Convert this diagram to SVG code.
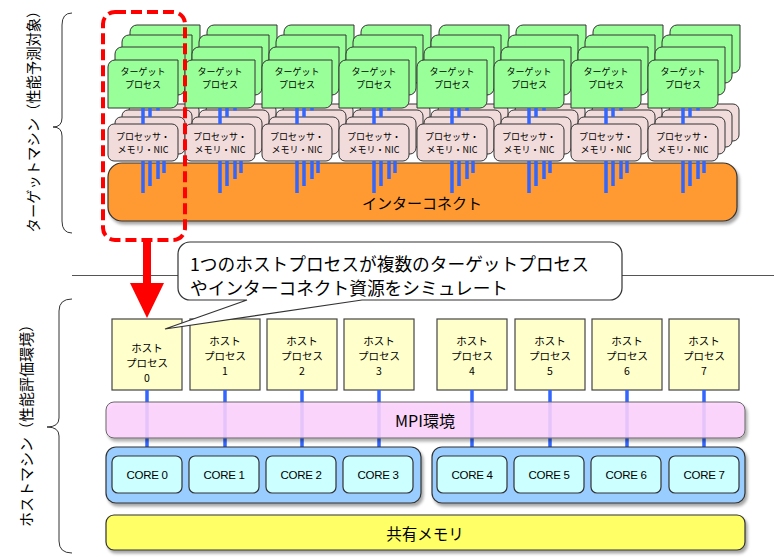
<svg xmlns="http://www.w3.org/2000/svg" xmlns:xlink="http://www.w3.org/1999/xlink" width="774" height="557" viewBox="0 0 774 557">
<style>
text{font-family:"Noto Sans CJK JP","Noto Sans",sans-serif;fill:#000;text-anchor:middle;dominant-baseline:central}
.gr{fill:#99FF99;stroke:#333;stroke-width:1}
.pk{fill:#F2DCDB;stroke:#333;stroke-width:1}
.st{font-size:9px}
.hb{fill:#FFFFCC;stroke:#444;stroke-width:1.2}
.ht{font-size:10.5px}
.core{fill:#CCFFFF;stroke:#333;stroke-width:1.2}
.ct{font-family:"Liberation Sans",Arial,sans-serif;font-size:11.5px;letter-spacing:-0.3px}
.bl{stroke:#3366FF;stroke-width:3.5;fill:none}
.co{font-size:17.7px;text-anchor:start}
</style>
<defs>
<path id="g" d="M7,0H70V41A7,7 0 0 1 63,48H0V7A7,7 0 0 1 7,0Z"/>
<rect id="p" width="70" height="37" rx="6"/>
<path id="tl" d="M35,108V124M42,108V117M50,108V110.5M35,161V193M42,161V186M50,161V179M56,161V173"/>
<filter id="sh" x="-5%" y="-10%" width="112%" height="135%">
<feDropShadow dx="2" dy="3" stdDeviation="1.5" flood-color="#000" flood-opacity="0.35"/>
</filter>
</defs>

<rect width="774" height="557" fill="#fff"/>

<g id="labels">
<path d="M72,13Q62,13 62,25L62,118Q62,127 53,127Q62,127 62,136L62,221Q62,233 72,233" fill="none" stroke="#333" stroke-width="1"/>
<text transform="translate(32,118) rotate(-90)" style="font-size:14.3px">ターゲットマシン（性能予測対象）</text>
<path d="M72,299Q59,299 59,311L59,418Q59,427 47,427Q59,427 59,436L59,541Q59,553 72,553" fill="none" stroke="#333" stroke-width="1"/>
<text transform="translate(25,422) rotate(-90)" style="font-size:15px">ホストマシン（性能評価環境）</text>
</g>

<line x1="72" y1="275.5" x2="774" y2="275.5" stroke="#555" stroke-width="1"/>

<g id="interconnect">
<rect x="108" y="163" width="629" height="58" rx="14" fill="#FF9933" stroke="#333" stroke-width="1.2" filter="url(#sh)"/>
<text x="422" y="202" style="font-size:15px">インターコネクト</text>
</g>

<g id="col0" transform="translate(108,0)">
<use href="#p" class="pk" x="21" y="104"/><use href="#p" class="pk" x="14" y="110"/><use href="#p" class="pk" x="7" y="117"/><use href="#p" class="pk" x="0" y="124"/>
<use href="#g" class="gr" x="22" y="25"/><use href="#g" class="gr" x="14" y="35"/><use href="#g" class="gr" x="7" y="47"/><use href="#g" class="gr" x="0" y="60"/>
<text class="st" x="35" y="71.5">ターゲット</text><text class="st" x="35" y="84">プロセス</text>
<text class="st" x="35" y="136.5">プロセッサ・</text><text class="st" x="35" y="149">メモリ・NIC</text>
</g>
<g id="col1" transform="translate(185,0)">
<use href="#p" class="pk" x="21" y="104"/><use href="#p" class="pk" x="14" y="110"/><use href="#p" class="pk" x="7" y="117"/><use href="#p" class="pk" x="0" y="124"/>
<use href="#g" class="gr" x="22" y="25"/><use href="#g" class="gr" x="14" y="35"/><use href="#g" class="gr" x="7" y="47"/><use href="#g" class="gr" x="0" y="60"/>
<text class="st" x="35" y="71.5">ターゲット</text><text class="st" x="35" y="84">プロセス</text>
<text class="st" x="35" y="136.5">プロセッサ・</text><text class="st" x="35" y="149">メモリ・NIC</text>
</g>
<g id="col2" transform="translate(262,0)">
<use href="#p" class="pk" x="21" y="104"/><use href="#p" class="pk" x="14" y="110"/><use href="#p" class="pk" x="7" y="117"/><use href="#p" class="pk" x="0" y="124"/>
<use href="#g" class="gr" x="22" y="25"/><use href="#g" class="gr" x="14" y="35"/><use href="#g" class="gr" x="7" y="47"/><use href="#g" class="gr" x="0" y="60"/>
<text class="st" x="35" y="71.5">ターゲット</text><text class="st" x="35" y="84">プロセス</text>
<text class="st" x="35" y="136.5">プロセッサ・</text><text class="st" x="35" y="149">メモリ・NIC</text>
</g>
<g id="col3" transform="translate(339,0)">
<use href="#p" class="pk" x="21" y="104"/><use href="#p" class="pk" x="14" y="110"/><use href="#p" class="pk" x="7" y="117"/><use href="#p" class="pk" x="0" y="124"/>
<use href="#g" class="gr" x="22" y="25"/><use href="#g" class="gr" x="14" y="35"/><use href="#g" class="gr" x="7" y="47"/><use href="#g" class="gr" x="0" y="60"/>
<text class="st" x="35" y="71.5">ターゲット</text><text class="st" x="35" y="84">プロセス</text>
<text class="st" x="35" y="136.5">プロセッサ・</text><text class="st" x="35" y="149">メモリ・NIC</text>
</g>
<g id="col4" transform="translate(417,0)">
<use href="#p" class="pk" x="21" y="104"/><use href="#p" class="pk" x="14" y="110"/><use href="#p" class="pk" x="7" y="117"/><use href="#p" class="pk" x="0" y="124"/>
<use href="#g" class="gr" x="22" y="25"/><use href="#g" class="gr" x="14" y="35"/><use href="#g" class="gr" x="7" y="47"/><use href="#g" class="gr" x="0" y="60"/>
<text class="st" x="35" y="71.5">ターゲット</text><text class="st" x="35" y="84">プロセス</text>
<text class="st" x="35" y="136.5">プロセッサ・</text><text class="st" x="35" y="149">メモリ・NIC</text>
</g>
<g id="col5" transform="translate(494,0)">
<use href="#p" class="pk" x="21" y="104"/><use href="#p" class="pk" x="14" y="110"/><use href="#p" class="pk" x="7" y="117"/><use href="#p" class="pk" x="0" y="124"/>
<use href="#g" class="gr" x="22" y="25"/><use href="#g" class="gr" x="14" y="35"/><use href="#g" class="gr" x="7" y="47"/><use href="#g" class="gr" x="0" y="60"/>
<text class="st" x="35" y="71.5">ターゲット</text><text class="st" x="35" y="84">プロセス</text>
<text class="st" x="35" y="136.5">プロセッサ・</text><text class="st" x="35" y="149">メモリ・NIC</text>
</g>
<g id="col6" transform="translate(571,0)">
<use href="#p" class="pk" x="21" y="104"/><use href="#p" class="pk" x="14" y="110"/><use href="#p" class="pk" x="7" y="117"/><use href="#p" class="pk" x="0" y="124"/>
<use href="#g" class="gr" x="22" y="25"/><use href="#g" class="gr" x="14" y="35"/><use href="#g" class="gr" x="7" y="47"/><use href="#g" class="gr" x="0" y="60"/>
<text class="st" x="35" y="71.5">ターゲット</text><text class="st" x="35" y="84">プロセス</text>
<text class="st" x="35" y="136.5">プロセッサ・</text><text class="st" x="35" y="149">メモリ・NIC</text>
</g>
<g id="col7" transform="translate(648,0)">
<use href="#p" class="pk" x="21" y="104"/><use href="#p" class="pk" x="14" y="110"/><use href="#p" class="pk" x="7" y="117"/><use href="#p" class="pk" x="0" y="124"/>
<use href="#g" class="gr" x="22" y="25"/><use href="#g" class="gr" x="14" y="35"/><use href="#g" class="gr" x="7" y="47"/><use href="#g" class="gr" x="0" y="60"/>
<text class="st" x="35" y="71.5">ターゲット</text><text class="st" x="35" y="84">プロセス</text>
<text class="st" x="35" y="136.5">プロセッサ・</text><text class="st" x="35" y="149">メモリ・NIC</text>
</g>

<g id="host-procs">
<g id="hp0"><rect class="hb" x="112" y="319" width="70" height="71"/><text class="ht" x="147" y="347">ホスト</text><text class="ht" x="147" y="362">プロセス</text><text class="ht" x="147" y="377">0</text></g>
<g id="hp1"><rect class="hb" x="190" y="319" width="70" height="71"/><text class="ht" x="225" y="340">ホスト</text><text class="ht" x="225" y="355">プロセス</text><text class="ht" x="225" y="370">1</text></g>
<g id="hp2"><rect class="hb" x="267" y="319" width="70" height="71"/><text class="ht" x="302" y="340">ホスト</text><text class="ht" x="302" y="355">プロセス</text><text class="ht" x="302" y="370">2</text></g>
<g id="hp3"><rect class="hb" x="344" y="319" width="70" height="71"/><text class="ht" x="379" y="340">ホスト</text><text class="ht" x="379" y="355">プロセス</text><text class="ht" x="379" y="370">3</text></g>
<g id="hp4"><rect class="hb" x="437" y="319" width="70" height="71"/><text class="ht" x="472" y="340">ホスト</text><text class="ht" x="472" y="355">プロセス</text><text class="ht" x="472" y="370">4</text></g>
<g id="hp5"><rect class="hb" x="515" y="319" width="70" height="71"/><text class="ht" x="550" y="340">ホスト</text><text class="ht" x="550" y="355">プロセス</text><text class="ht" x="550" y="370">5</text></g>
<g id="hp6"><rect class="hb" x="592" y="319" width="70" height="71"/><text class="ht" x="627" y="340">ホスト</text><text class="ht" x="627" y="355">プロセス</text><text class="ht" x="627" y="370">6</text></g>
<g id="hp7"><rect class="hb" x="669" y="319" width="70" height="71"/><text class="ht" x="704" y="340">ホスト</text><text class="ht" x="704" y="355">プロセス</text><text class="ht" x="704" y="370">7</text></g>
</g>

<g id="connectors">
<use href="#tl" class="bl" x="108"/><use href="#tl" class="bl" x="185"/><use href="#tl" class="bl" x="262"/><use href="#tl" class="bl" x="339"/>
<use href="#tl" class="bl" x="417"/><use href="#tl" class="bl" x="494"/><use href="#tl" class="bl" x="571"/><use href="#tl" class="bl" x="648"/>
<path class="bl" d="M147,390V447M225,390V447M302,390V447M379,390V447M472,390V447M550,390V447M627,390V447M704,390V447"/>
</g>

<g id="mpi">
<rect x="106" y="402" width="639" height="36" rx="8" fill="#FFD4FF" fill-opacity="0.85" stroke="#666" stroke-width="1" filter="url(#sh)"/>
<text x="425" y="420" style="font-size:16px">MPI環境</text>
</g>

<g id="cores-a">
<rect x="106" y="447" width="315" height="56" rx="10" fill="#99CCFF" stroke="#333" stroke-width="1.2" filter="url(#sh)"/>
<g id="core0"><rect class="core" x="112" y="456" width="70" height="37" rx="6"/><text class="ct" x="147" y="475">CORE 0</text></g>
<g id="core1"><rect class="core" x="189" y="456" width="70" height="37" rx="6"/><text class="ct" x="224" y="475">CORE 1</text></g>
<g id="core2"><rect class="core" x="266" y="456" width="70" height="37" rx="6"/><text class="ct" x="301" y="475">CORE 2</text></g>
<g id="core3"><rect class="core" x="343" y="456" width="70" height="37" rx="6"/><text class="ct" x="378" y="475">CORE 3</text></g>
</g>
<g id="cores-b">
<rect x="432" y="447" width="313" height="56" rx="10" fill="#99CCFF" stroke="#333" stroke-width="1.2" filter="url(#sh)"/>
<g id="core4"><rect class="core" x="437" y="456" width="70" height="37" rx="6"/><text class="ct" x="472" y="475">CORE 4</text></g>
<g id="core5"><rect class="core" x="514" y="456" width="70" height="37" rx="6"/><text class="ct" x="549" y="475">CORE 5</text></g>
<g id="core6"><rect class="core" x="591" y="456" width="70" height="37" rx="6"/><text class="ct" x="626" y="475">CORE 6</text></g>
<g id="core7"><rect class="core" x="669" y="456" width="70" height="37" rx="6"/><text class="ct" x="704" y="475">CORE 7</text></g>
</g>

<g id="shared-memory">
<rect x="106" y="515" width="639" height="35" rx="8" fill="#FFFF66" stroke="#333" stroke-width="1.2" filter="url(#sh)"/>
<text x="425" y="532.5" style="font-size:15.5px">共有メモリ</text>
</g>

<g id="callout">
<path d="M190,242H610A12,12 0 0 1 622,254V288A12,12 0 0 1 610,300H362L165,329L247,300H190A12,12 0 0 1 178,288V254A12,12 0 0 1 190,242Z" fill="#fff" stroke="#333" stroke-width="1.2"/>
<text class="co" x="190" y="263">1つのホストプロセスが複数のターゲットプロセス</text>
<text class="co" x="190" y="287">やインターコネクト資源をシミュレート</text>
</g>

<g id="highlight">
<rect x="103" y="12" width="82" height="228" rx="12" fill="none" stroke="#FF0000" stroke-width="4" stroke-dasharray="11 5"/>
<line x1="147" y1="241" x2="147" y2="286" stroke="#FF0000" stroke-width="8"/>
<polygon points="130,283 164,283 147,318" fill="#FF0000"/>
</g>
</svg>
